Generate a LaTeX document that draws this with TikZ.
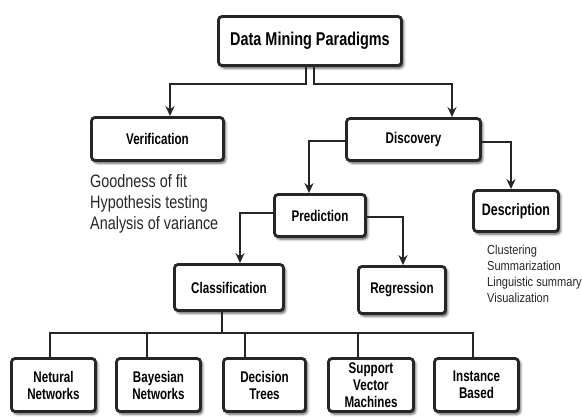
\documentclass[tikz,border=0pt]{standalone}
\usepackage{fontspec}
\setmainfont{Liberation Sans}[FakeStretch=0.82]
\newfontfamily\boxfont{Liberation Sans}[FakeStretch=0.75]
\newfontfamily\topfont{Liberation Sans}[FakeStretch=0.78]
\newfontfamily\listfont{Liberation Sans}[FakeStretch=0.8]
\newfontfamily\smallfont{Liberation Sans}[FakeStretch=0.85]
\usetikzlibrary{arrows.meta,shadows.blur}
\begin{document}
\begin{tikzpicture}[x=1pt,y=-1pt,
  box/.style={draw=black!85, line width=2.8pt, rounded corners=3.5pt, fill=white,
    font=\boxfont\bfseries\fontsize{15.5}{17}\selectfont, align=center, inner sep=0pt,
    blur shadow={shadow xshift=2pt,shadow yshift=-2.5pt,shadow blur radius=2.5pt,shadow opacity=70}},
  conn/.style={draw=black!85, line width=2.6pt},
  arr/.style={conn, -{Stealth[length=10pt,width=9pt]}},
  plaintext/.style={anchor=base west, inner sep=0pt, text=black!85, font=\listfont\fontsize{18}{21}\selectfont},
  smalltext/.style={anchor=base west, inner sep=0pt, text=black!85, font=\smallfont\fontsize{13}{16}\selectfont}]
\useasboundingbox (0,0) rectangle (582,416);

% boxes
\node[box, minimum width=183pt, minimum height=49pt, font=\topfont\bfseries\fontsize{18.5}{20}\selectfont] (top) at (310,41) {Data Mining Paradigms};
\node[box, minimum width=132pt, minimum height=43pt] (ver) at (157.5,139) {Verification};
\node[box, minimum width=134pt, minimum height=42pt] (dis) at (413.5,139.5) {Discovery};
\node[box, minimum width=91pt, minimum height=42pt] (pred) at (320,215.5) {Prediction};
\node[box, minimum width=85pt, minimum height=41pt, font=\boxfont\bfseries\fontsize{16.5}{18}\selectfont] (desc) at (516,211) {Description};
\node[box, minimum width=109pt, minimum height=46pt] (cls) at (229,287.5) {Classification};
\node[box, minimum width=87pt, minimum height=47pt] (reg) at (402,290) {Regression};
\node[box, minimum width=84pt, minimum height=53pt] (nn) at (53.5,385) {Netural\\Networks};
\node[box, minimum width=84pt, minimum height=53pt] (bn) at (158.5,385) {Bayesian\\Networks};
\node[box, minimum width=82pt, minimum height=53pt] (dt) at (264.5,385) {Decision\\Trees};
\node[box, minimum width=85pt, minimum height=53pt] (svm) at (371,385) {Support\\Vector\\Machines};
\node[box, minimum width=84pt, minimum height=53pt] (ib) at (476.5,385) {Instance\\Based};

% texts
\node[plaintext] (t1) at (90,187) {Goodness of fit};
\node[plaintext] (t2) at (90,208) {Hypothesis testing};
\node[plaintext] (t3) at (90,229) {Analysis of variance};
\node[smalltext] (s1) at (487,254) {Clustering};
\node[smalltext] (s2) at (487,270) {Summarization};
\node[smalltext] (s3) at (487,286) {Linguistic summary};
\node[smalltext] (s4) at (487,302) {Visualization};

% connectors
\coordinate (a1) at (306,84);
\coordinate (a2) at (314,84);
\coordinate (va) at (170,84);
\coordinate (da) at (452,84);
\draw[arr] (top.south -| a1) -- (a1) -- (va) -- (ver.north -| va);
\draw[arr] (top.south -| a2) -- (a2) -- (da) -- (dis.north -| da);

\coordinate (p1) at (309,141);
\coordinate (p2) at (511,142);
\draw[arr] (dis.west |- p1) -- (p1) -- (pred.north -| p1);
\draw[arr] (dis.east |- p2) -- (p2) -- (desc.north -| p2);

\coordinate (c1) at (240,213);
\coordinate (r1) at (403,217);
\draw[arr] (pred.west |- c1) -- (c1) -- (cls.north -| c1);
\draw[arr] (pred.east |- r1) -- (r1) -- (reg.north -| r1);

\coordinate (j) at (222,333);
\coordinate (b1) at (50,333);
\coordinate (b2) at (147,333);
\coordinate (b3) at (245,333);
\coordinate (b4) at (358,333);
\coordinate (b5) at (473,333);
\draw[conn] (cls.south -| j) -- (j);
\draw[conn] (nn.north -| b1) -- (b1) -- (b5) -- (ib.north -| b5);
\draw[conn] (b2) -- (bn.north -| b2);
\draw[conn] (b3) -- (dt.north -| b3);
\draw[conn] (b4) -- (svm.north -| b4);
\end{tikzpicture}
\end{document}
